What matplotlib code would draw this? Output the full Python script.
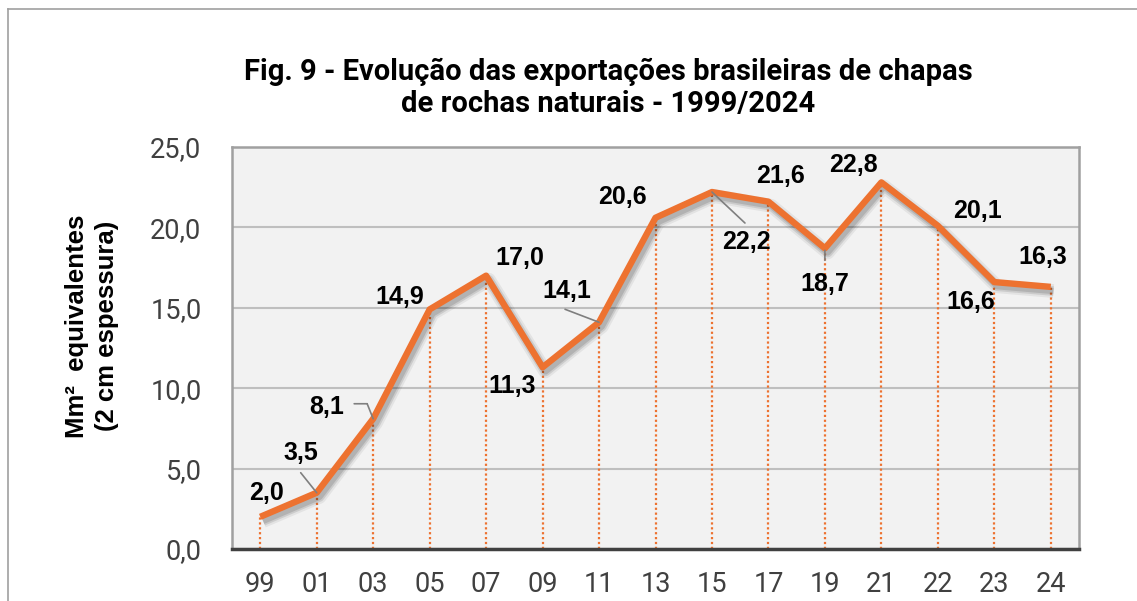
import matplotlib
matplotlib.use("Agg")
import matplotlib.pyplot as plt
import matplotlib.patheffects as pe
from matplotlib.lines import Line2D
from matplotlib.transforms import offset_copy

years = ["99", "01", "03", "05", "07", "09", "11", "13", "15", "17", "19", "21", "22", "23", "24"]
values = [2.0, 3.5, 8.1, 14.9, 17.0, 11.3, 14.1, 20.6, 22.2, 21.6, 18.7, 22.8, 20.1, 16.6, 16.3]
labels = ["2,0", "3,5", "8,1", "14,9", "17,0", "11,3", "14,1", "20,6", "22,2", "21,6",
          "18,7", "22,8", "20,1", "16,6", "16,3"]

# label offsets from the point, in pixels (x right, y up)
label_off = [(6, 24), (-16, 40), (-46, 12), (-30, 12), (34, 18), (-30, -19), (-32, 31),
             (-33, 21), (34, -50), (12, 26), (0, -36), (-28, 17), (40, 15), (-24, -20), (-8, 30)]
# leader lines: index -> list of pixel offsets (polyline ending at the point)
leaders = {1: [(-16, 20), (0, 0)],
           2: [(-19, 15), (-6, 15), (0, 0)],
           6: [(-34, 13), (0, 0)],
           8: [(33, -31), (0, 0)],
           10: [(0, -12), (0, -2)]}

orange = "#ED7230"
fig = plt.figure(figsize=(11.37, 6.01), dpi=100)
ax = fig.add_axes([232 / 1137, 52 / 601, (1079 - 232) / 1137, (549 - 147) / 601])
ax.set_facecolor("#F2F2F2")

x = list(range(len(years)))
ax.set_xlim(-0.5, len(years) - 0.5)
ax.set_ylim(0, 25)
ax.set_yticks([0, 5, 10, 15, 20, 25])
ax.set_yticklabels(["0,0", "5,0", "10,0", "15,0", "20,0", "25,0"])
ax.set_xticks(x)
ax.set_xticklabels(years)
ax.tick_params(length=0, labelsize=19.5, colors="#404040")
ax.tick_params(axis="x", pad=16)
ax.tick_params(axis="y", pad=22)
for t in ax.get_xticklabels() + ax.get_yticklabels():
    t.set_fontfamily("Roboto")
ax.grid(axis="y", color="#BFBFBF", lw=1.5)
ax.set_axisbelow(True)
for s in ["top", "left", "right"]:
    ax.spines[s].set_color("#A0A0A0")
    ax.spines[s].set_linewidth(1.8)
ax.spines["bottom"].set_color("#404040")
ax.spines["bottom"].set_linewidth(2.5)

ax.vlines(x, 0, values, colors=orange, linestyles=(0, (1, 1.2)), lw=1.6, zorder=2)
ax.plot(x, values, color=orange, lw=4.6, solid_capstyle="butt", zorder=4,
        path_effects=[pe.SimpleLineShadow(offset=(2, -3), shadow_color="k", alpha=0.06, linewidth=10),
                      pe.SimpleLineShadow(offset=(2, -3), shadow_color="k", alpha=0.10, linewidth=7),
                      pe.SimpleLineShadow(offset=(2, -3), shadow_color="k", alpha=0.12, linewidth=4.5),
                      pe.Normal()])

for i, (xi, v) in enumerate(zip(x, values)):
    ax.annotate(labels[i], (xi, v), xytext=label_off[i], textcoords="offset pixels",
                ha="center", va="center", fontsize=18, fontweight="bold",
                family="Liberation Sans", color="black", zorder=6)

for i, pts in leaders.items():
    for (a, b) in zip(pts[:-1], pts[1:]):
        ta = offset_copy(ax.transData, fig=fig, x=a[0], y=a[1], units="dots")
        tb = offset_copy(ax.transData, fig=fig, x=b[0], y=b[1], units="dots")
        ax.annotate("", xy=(x[i], values[i]), xycoords=tb, xytext=(x[i], values[i]),
                    textcoords=ta, arrowprops=dict(arrowstyle="-", color="#7F7F7F", lw=1.2,
                                                   shrinkA=0, shrinkB=0), zorder=5)

fig.text(608 / 1137, 1 - 88 / 601,
         "Fig. 9 - Evolução das exportações brasileiras de chapas\nde rochas naturais - 1999/2024",
         ha="center", va="center", fontsize=21, fontweight="bold", family="Roboto",
         linespacing=1.22)
fig.text(92 / 1137, 1 - 326 / 601, "Mm²  equivalentes\n(2 cm espessura)", rotation=90,
         ha="center", va="center", fontsize=18.5, fontweight="bold", family="Liberation Sans",
         linespacing=1.3)

fig.add_artist(Line2D([8 / 1137, 8 / 1137], [0, 1 - 9 / 601], color="#A0A0A0", lw=1.2))
fig.add_artist(Line2D([8 / 1137, 1], [1 - 9 / 601, 1 - 9 / 601], color="#A0A0A0", lw=1.2))

fig.savefig("out.png", dpi=100)
